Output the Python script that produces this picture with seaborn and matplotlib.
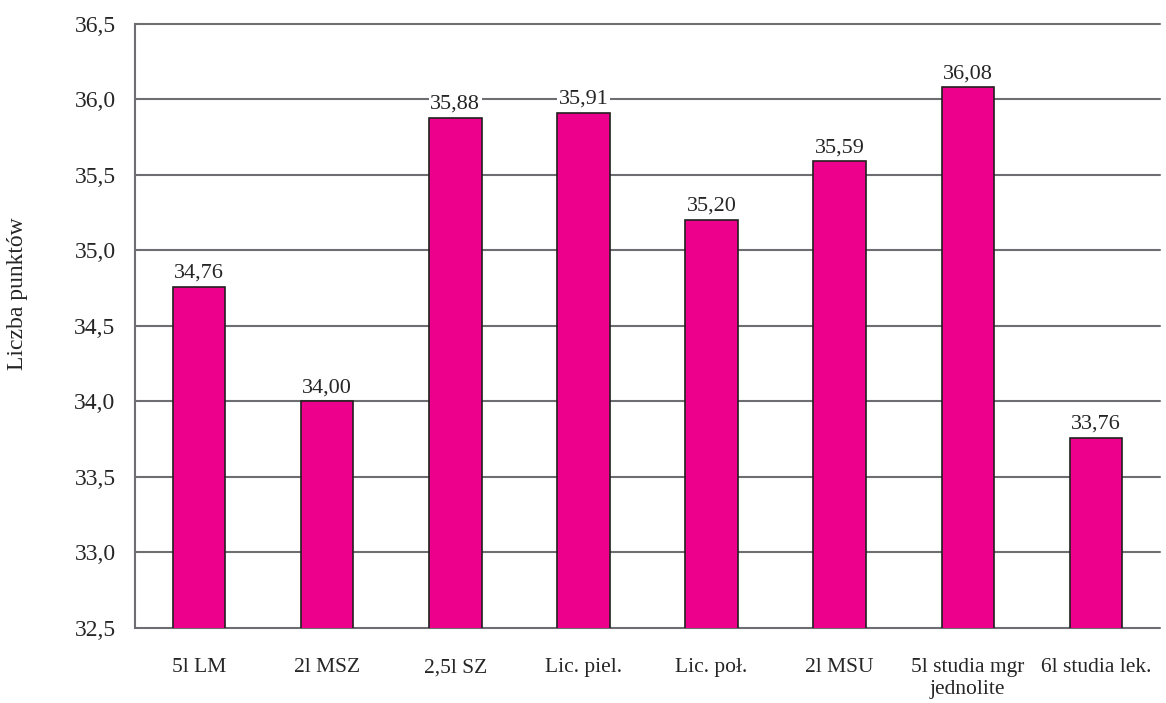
import seaborn as sns
import pandas as pd
import matplotlib.pyplot as plt

categories = ['5l LM', '2l MSZ', '2,5l SZ', 'Lic. piel.', 'Lic. poł.', '2l MSU',
              '5l studia mgr\njednolite', '6l studia lek.']
values = [34.76, 34.00, 35.88, 35.91, 35.20, 35.59, 36.08, 33.76]
yticks = [32.5, 33.0, 33.5, 34.0, 34.5, 35.0, 35.5, 36.0, 36.5]

df = pd.DataFrame({'kategoria': categories, 'punkty': values})

sns.set_style('white')
plt.rcParams['font.family'] = ['Liberation Serif', 'DejaVu Serif']

fig = plt.figure(figsize=(11.66, 7.03), dpi=100)
ax = fig.add_axes([0.1158, 0.107, 0.879, 0.859])

grid_col = '#6d6e71'
ax.set_ylim(32.5, 36.5)
ax.set_yticks(yticks)
ax.set_yticklabels([f'{t:.1f}'.replace('.', ',') for t in yticks], fontsize=17)
ax.yaxis.grid(True, color=grid_col, linewidth=1.5, zorder=0)
for gl in ax.yaxis.get_gridlines():
    gl.set_clip_on(False)
ax.set_axisbelow(True)

sns.barplot(data=df, x='kategoria', y='punkty', color='#ec008c', width=0.41,
            edgecolor='#231f20', linewidth=1.2, saturation=1, ax=ax)
ax.set_xlim(-0.5, 7.5)

labels = ax.bar_label(ax.containers[0], labels=[f'{v:.2f}'.replace('.', ',') for v in values],
                      padding=3, fontsize=16)
for t in labels:
    t.set_bbox(dict(facecolor='white', edgecolor='none', pad=1))

for s in ['top', 'right', 'bottom']:
    ax.spines[s].set_visible(False)
ax.spines['left'].set_color(grid_col)
ax.spines['left'].set_linewidth(1.5)
ax.tick_params(axis='y', length=8, width=1.5, color=grid_col, pad=6)
ax.tick_params(axis='x', length=0, labelsize=15.5, pad=22)
ax.set_xlabel('')
ax.set_ylabel('Liczba punktów', fontsize=17)
ax.yaxis.set_label_coords(-0.104, 0.553)

fig.savefig('out.png', dpi=100)
